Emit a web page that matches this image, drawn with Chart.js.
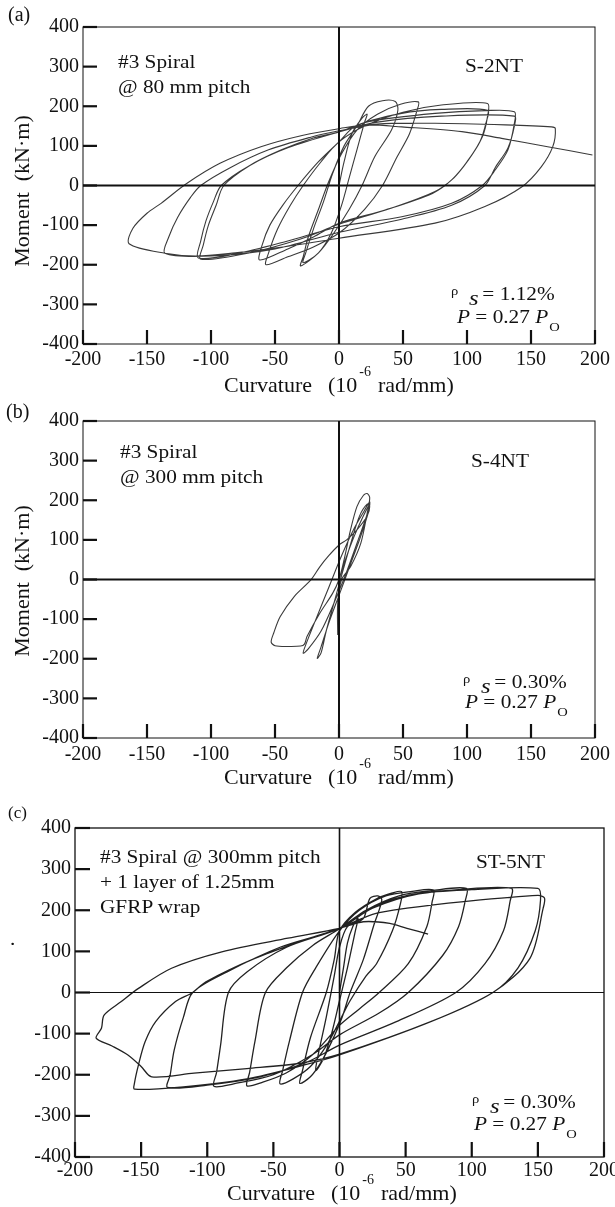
<!DOCTYPE html>
<html>
<head>
<meta charset="utf-8">
<script src="https://cdn.jsdelivr.net/npm/chart.js@4.4.1/dist/chart.umd.min.js"></script>
<style>
  body { margin: 0; background: #fff; }
  #page { position: relative; width: 615px; height: 1207px; overflow: hidden; }
  canvas { position: absolute; left: 0; }
  .t { position: absolute; font-family: 'Liberation Serif', 'Times New Roman', serif; font-size: 19px;
       line-height: 19px; white-space: nowrap; color: #111; transform-origin: 0 0; transform: scaleX(1.12); }
  .lab { transform: none; font-size: 20px; line-height: 20px; }
  .ytitle { position: absolute; font-family: 'Liberation Serif', serif; font-size: 22px; line-height: 22px;
            white-space: nowrap; color: #111; transform: translate(-50%, -50%) rotate(-90deg); }
  .xtitle { position: absolute; font-family: 'Liberation Serif', serif; font-size: 22px; line-height: 22px;
            white-space: nowrap; color: #111; }
  .xtitle .sup { font-size: 14px; position: relative; top: -16px; line-height: 0; margin-left: 2px; margin-right: 7px; }
  .rho { display: inline-block; width: 16px; font-size: 13px; position: relative; top: -5px; line-height: 0; }
  .ss { display: inline-block; width: 12px; font-size: 22px; font-style: italic; position: relative; top: 5px; line-height: 0; }
  .po { font-size: 13px; position: relative; top: 8px; line-height: 0; margin-left: 1px; }
</style>
</head>
<body>
<div id="page">
  <canvas id="chartA" width="615" height="400" style="top:0"></canvas>
  <canvas id="chartB" width="615" height="400" style="top:400px"></canvas>
  <canvas id="chartC" width="615" height="407" style="top:800px"></canvas>

  <!-- panel (a) -->
  <div class="t lab" style="left:8px;top:4px">(a)</div>
  <div class="t" style="left:118px;top:52px">#3 Spiral</div>
  <div class="t" style="left:118px;top:77px">@ 80 mm pitch</div>
  <div class="t" style="left:465px;top:56px">S-2NT</div>
  <div class="t" style="left:451px;top:284px"><span class="rho">ρ</span><span class="ss">s</span>= 1.12%</div>
  <div class="t" style="left:457px;top:307px"><i>P</i> = 0.27 <i>P</i><span class="po">O</span></div>
  <div class="ytitle" style="left:22px;top:191px">Moment&nbsp;&nbsp;(kN·m)</div>
  <div class="xtitle" style="left:224px;top:374px">Curvature<span style="margin-left:16px">(10</span><span class="sup">-6</span>rad/mm)</div>

  <!-- panel (b) -->
  <div class="t lab" style="left:6px;top:401px">(b)</div>
  <div class="t" style="left:120px;top:442px">#3 Spiral</div>
  <div class="t" style="left:120px;top:467px">@ 300 mm pitch</div>
  <div class="t" style="left:471px;top:451px">S-4NT</div>
  <div class="t" style="left:463px;top:672px"><span class="rho">ρ</span><span class="ss">s</span>= 0.30%</div>
  <div class="t" style="left:465px;top:692px"><i>P</i> = 0.27 <i>P</i><span class="po">O</span></div>
  <div class="ytitle" style="left:22px;top:581px">Moment&nbsp;&nbsp;(kN·m)</div>
  <div class="xtitle" style="left:224px;top:766px">Curvature<span style="margin-left:16px">(10</span><span class="sup">-6</span>rad/mm)</div>

  <!-- panel (c) -->
  <div class="t lab" style="left:8px;top:804px;font-size:17px;line-height:17px">(c)</div>
  <div class="t" style="left:100px;top:847px">#3 Spiral @ 300mm pitch</div>
  <div class="t" style="left:100px;top:872px">+ 1 layer of 1.25mm</div>
  <div class="t" style="left:100px;top:897px">GFRP wrap</div>
  <div class="t" style="left:476px;top:852px">ST-5NT</div>
  <div class="t" style="left:10px;top:929px">.</div>
  <div class="t" style="left:472px;top:1092px"><span class="rho">ρ</span><span class="ss">s</span>= 0.30%</div>
  <div class="t" style="left:474px;top:1114px"><i>P</i> = 0.27 <i>P</i><span class="po">O</span></div>
  <div class="xtitle" style="left:227px;top:1182px">Curvature<span style="margin-left:16px">(10</span><span class="sup">-6</span>rad/mm)</div>
</div>

<script>
// axis ticks shared by the three panels
const curvatureTicks = [-200, -150, -100, -50, 0, 50, 100, 150, 200];
const momentTicks = [-400, -300, -200, -100, 0, 100, 200, 300, 400];

// (a) S-2NT : [curvature 10^-6 rad/mm, moment kN.m] read along the loops
const loopA = [
  [0, 0], [4, 60], [10, 130], [18, 170], [22, 180],
  [20, 160], [14, 90], [8, 20], [2, -50], [-6, -120], [-16, -170], [-28, -195],
  [-26, -170], [-20, -110], [-12, -40], [-5, 30], [4, 100], [14, 150], [23, 200], [34, 214], [44, 212],
  [46, 190], [41, 140], [28, 73], [18, 0], [8, -60], [-4, -120], [-16, -170], [-30, -203],
  [-28, -180], [-24, -130], [-16, -60], [-8, 10], [2, 80], [14, 140], [30, 180], [48, 205], [62, 211],
  [61, 190], [55, 130], [45, 70], [34, 0], [20, -60], [0, -120], [-20, -155], [-40, -180], [-57, -200],
  [-55, -170], [-48, -110], [-38, -50], [-28, 0], [-14, 60], [0, 110], [20, 150], [50, 185], [80, 203], [116, 207],
  [116, 174], [112, 123], [101, 64], [88, 14], [73, -20], [36, -62], [0, -95], [-20, -130], [-40, -160], [-62, -188],
  [-60, -150], [-54, -100], [-44, -50], [-32, 0], [-16, 60], [0, 110], [13, 150], [49, 182], [80, 192], [116, 190],
  [115, 160], [110, 110], [100, 60], [90, 20], [75, -15], [40, -58], [0, -98], [-30, -135], [-70, -170], [-108, -186],
  [-106, -150], [-102, -100], [-96, -50], [-90, 0], [-70, 50], [-45, 90], [-20, 120], [0, 135], [23, 161], [75, 182], [114, 189], [137, 186],
  [137, 157], [132, 90], [122, 39], [112, 0], [88, -45], [49, -79], [0, -104], [-40, -140], [-80, -172], [-110, -183],
  [-108, -140], [-104, -90], [-98, -40], [-92, 0], [-70, 50], [-40, 95], [0, 135], [30, 160], [80, 175], [137, 175],
  [137, 150], [132, 95], [122, 45], [114, 0], [88, -50], [49, -85], [0, -118], [-50, -160], [-100, -178], [-136, -171],
  [-133, -130], [-126, -80], [-116, -30], [-108, 0], [-85, 45], [-55, 90], [-22, 122], [0, 138], [30, 155], [75, 157], [130, 153], [166, 148], [169, 144],
  [167, 98], [158, 47], [143, -3], [114, -53], [75, -95], [0, -133], [-50, -158], [-81, -170], [-111, -178], [-136, -171], [-164, -147],
  [-161, -108], [-150, -70], [-139, -45], [-119, 5], [-93, 56], [-61, 98], [-28, 127], [1, 144], [23, 153], [49, 148], [96, 136], [127, 119], [163, 98], [198, 77]
];

// (b) S-4NT
const loopB = [
  [0, 0], [5, 50], [12, 110], [19, 160], [24, 190],
  [22, 165], [15, 100], [6, 20], [-4, -60], [-14, -130], [-24, -175], [-28, -186],
  [-26, -165], [-18, -100], [-8, -20], [2, 60], [12, 130], [20, 175], [24, 196],
  [23, 170], [16, 100], [8, 30], [0, -40], [-8, -110], [-14, -170], [-17, -199],
  [-14, -185], [-10, -130], [-4, -60], [2, 10], [10, 100], [16, 160], [22, 190], [24, 184],
  [22, 160], [14, 125], [6, 100], [0, 87], [-8, 60], [-15, 32], [-22, -1], [-35, -43], [-46, -94], [-51, -135], [-53, -158],
  [-50, -167], [-40, -169], [-30, -168], [-27, -163],
  [-25, -144], [-15, -85], [-5, -35], [0, 0], [4, 50], [9, 125], [14, 184], [19, 212], [22, 217], [24, 206],
  [22, 167], [17, 91], [9, 32], [2, 0], [-1, -60], [-1, -140]
];

// (c) ST-5NT
const loopC = [
  [0, 0], [3, 60], [6, 120], [10, 160], [14, 180],
  [12, 150], [6, 60], [0, -20], [-6, -100], [-12, -160], [-18, -190],
  [-16, -150], [-10, -60], [-4, 40], [0, 110], [6, 160], [18, 180], [23, 229], [29, 235], [32, 225],
  [26, 164], [18, 80], [8, 0], [2, -60], [-6, -120], [-14, -170], [-22, -205], [-30, -221],
  [-28, -190], [-22, -110], [-10, 0], [-4, 80], [0, 150], [12, 195], [28, 228], [40, 242], [47, 245],
  [46, 215], [40, 150], [28, 70], [20, 40], [8, -20], [0, -70], [-10, -130], [-22, -180], [-35, -210], [-45, -222],
  [-43, -190], [-38, -120], [-28, 0], [-18, 60], [0, 150], [15, 200], [35, 235], [55, 246], [71, 249],
  [70, 220], [66, 160], [52, 70], [30, 0], [15, -40], [0, -80], [-20, -150], [-40, -195], [-58, -218], [-70, -227],
  [-68, -195], [-64, -120], [-56, 0], [-40, 60], [-20, 115], [0, 155], [20, 200], [45, 235], [70, 248], [96, 253],
  [95, 222], [90, 160], [78, 90], [52, 0], [30, -50], [0, -103], [-20, -150], [-50, -200], [-80, -222], [-95, -228],
  [-93, -195], [-90, -130], [-84, 0], [-70, 50], [-40, 110], [0, 156], [20, 200], [50, 235], [90, 250], [130, 253],
  [129, 222], [124, 150], [110, 70], [88, 0], [43, -71], [0, -128], [-25, -170], [-60, -205], [-100, -225], [-130, -231],
  [-128, -200], [-125, -140], [-118, -60], [-111, 0], [-85, 50], [-45, 110], [0, 156], [25, 205], [60, 240], [100, 250], [150, 253],
  [152, 225], [148, 150], [135, 60], [116, 0], [69, -71], [0, -152], [-25, -175], [-70, -210], [-120, -230], [-155, -235],
  [-155, -220], [-152, -176], [-147, -120], [-139, -71], [-124, -22], [-111, 0], [-101, 26], [-64, 83], [-26, 128], [0, 156],
  [25, 190], [51, 205], [94, 221], [150, 236], [155, 230],
  [154, 205], [144, 83], [116, 0], [69, -71], [0, -150], [-30, -172], [-70, -185], [-110, -196], [-142, -205],
  [-150, -180], [-160, -152], [-172, -130], [-184, -111], [-180, -87], [-178, -55], [-165, -22], [-152, 10], [-127, 59],
  [-89, 99], [-39, 132], [0, 156], [18, 172], [38, 168], [51, 156], [67, 142]
];

// frame, zero lines and inward tick marks
const framePlugin = {
  id: 'frame',
  afterDatasetsDraw(chart, args, opts) {
    const { ctx, chartArea: a, scales: { x, y } } = chart;
    const seg = (x1, y1, x2, y2) => { ctx.beginPath(); ctx.moveTo(x1, y1); ctx.lineTo(x2, y2); ctx.stroke(); };
    ctx.save();
    ctx.strokeStyle = '#111';
    ctx.lineWidth = opts.frameW;
    ctx.strokeRect(a.left, a.top, a.width, a.height);
    const x0 = x.getPixelForValue(0), y0 = y.getPixelForValue(0);
    ctx.lineWidth = opts.zeroW;
    seg(a.left, y0, a.right, y0);
    ctx.lineWidth = opts.vzeroW;
    seg(x0, a.top, x0, a.bottom);
    ctx.lineWidth = opts.tickW;
    momentTicks.forEach(v => { const p = y.getPixelForValue(v); seg(a.left, p, a.left + opts.tickLen, p); });
    curvatureTicks.forEach(v => { const p = x.getPixelForValue(v); seg(p, a.bottom, p, a.bottom - opts.tickLen); });
    ctx.restore();
  }
};

function makePanel(id, points, box, style) {
  const canvas = document.getElementById(id);
  const H = canvas.height;
  const xAxisH = 30;
  return new Chart(canvas.getContext('2d'), {
    type: 'scatter',
    data: {
      datasets: [{
        data: points.map(p => ({ x: p[0], y: p[1] })),
        showLine: true,
        borderColor: style.color,
        borderWidth: style.lineW,
        pointRadius: 0,
        tension: 0.3
      }]
    },
    options: {
      responsive: false,
      animation: false,
      devicePixelRatio: 1,
      layout: { padding: { left: 0, top: box.top, right: 615 - box.right, bottom: H - box.bottom - xAxisH } },
      plugins: {
        legend: { display: false },
        tooltip: { enabled: false },
        frame: style.frame
      },
      scales: {
        x: {
          type: 'linear', min: -200, max: 200,
          grid: { display: false, drawTicks: false }, border: { display: false },
          afterBuildTicks: s => { s.ticks = curvatureTicks.map(v => ({ value: v })); },
          afterFit: s => { s.height = xAxisH; s.paddingLeft = 0; s.paddingRight = 0; },
          ticks: { autoSkip: false, maxRotation: 0, padding: style.xPad, color: '#111',
                   font: { family: "'Liberation Serif', serif", size: 20 } }
        },
        y: {
          type: 'linear', min: -400, max: 400,
          grid: { display: false, drawTicks: false }, border: { display: false },
          afterBuildTicks: s => { s.ticks = momentTicks.map(v => ({ value: v })); },
          afterFit: s => { s.width = box.left; s.paddingTop = 0; s.paddingBottom = 0; },
          ticks: { autoSkip: false, padding: style.yPad, color: '#111',
                   font: { family: "'Liberation Serif', serif", size: 20 } }
        }
      }
    },
    plugins: [framePlugin]
  });
}

document.addEventListener('DOMContentLoaded', () => {
  const thin = { frameW: 1, zeroW: 2, vzeroW: 2, tickW: 2.2, tickLen: 14 };
  makePanel('chartA', loopA, { left: 83, right: 595, top: 27, bottom: 344 },
    { color: '#3a3a3a', lineW: 1.1, xPad: 4, yPad: 4, frame: thin });
  makePanel('chartB', loopB, { left: 83, right: 595, top: 21, bottom: 338 },
    { color: '#3a3a3a', lineW: 1.1, xPad: 5, yPad: 4, frame: thin });
  makePanel('chartC', loopC, { left: 75, right: 604, top: 28, bottom: 357 },
    { color: '#222', lineW: 1.3, xPad: 2, yPad: 4,
      frame: { frameW: 1.3, zeroW: 1, vzeroW: 1.6, tickW: 2.2, tickLen: 15 } });
});
</script>
</body>
</html>
